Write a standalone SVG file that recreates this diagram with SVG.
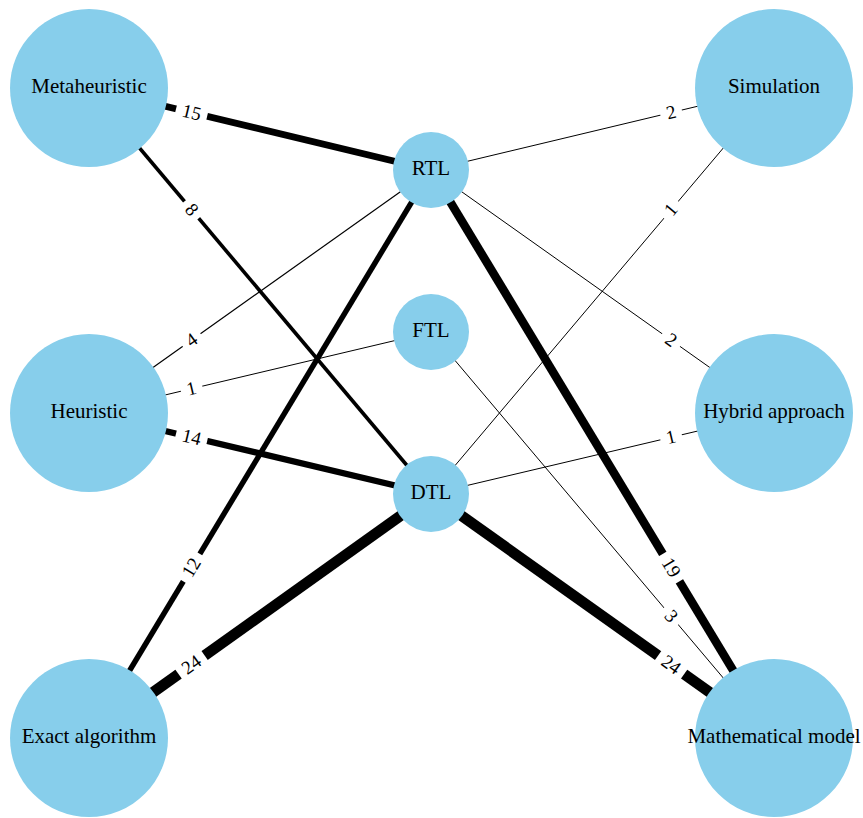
<svg xmlns="http://www.w3.org/2000/svg" width="863" height="818" viewBox="0 0 863 818">
<style>
.node{fill:#87CEEB}
.nl{font-size:21px;fill:#000;text-anchor:middle}
.e{stroke:#000;stroke-linecap:butt;fill:none}
.el{font-size:19px;fill:#000;text-anchor:middle}
.bg{fill:#fff}
</style>
<rect width="863" height="818" fill="#fff"/>
<g id="connectors" font-family="'Liberation Serif', 'Times New Roman', Times, serif">
<line class="e" x1="89" y1="88" x2="431" y2="170" stroke-width="6.8"/>
<line class="e" x1="89" y1="88" x2="431" y2="494" stroke-width="3.6"/>
<line class="e" x1="89" y1="413" x2="431" y2="170" stroke-width="1.2"/>
<line class="e" x1="89" y1="413" x2="431" y2="332" stroke-width="1"/>
<line class="e" x1="89" y1="413" x2="431" y2="494" stroke-width="6.3"/>
<line class="e" x1="89" y1="738" x2="431" y2="170" stroke-width="5.4"/>
<line class="e" x1="89" y1="738" x2="431" y2="494" stroke-width="10.8"/>
<line class="e" x1="774" y1="88" x2="431" y2="170" stroke-width="1"/>
<line class="e" x1="774" y1="88" x2="431" y2="494" stroke-width="1"/>
<line class="e" x1="774" y1="413" x2="431" y2="170" stroke-width="1"/>
<line class="e" x1="774" y1="413" x2="431" y2="494" stroke-width="1"/>
<line class="e" x1="774" y1="738" x2="431" y2="170" stroke-width="8.5"/>
<line class="e" x1="774" y1="738" x2="431" y2="332" stroke-width="1"/>
<line class="e" x1="774" y1="738" x2="431" y2="494" stroke-width="10.8"/>
<g transform="translate(191.6,112.6) rotate(13.48)"><rect class="bg" x="-16" y="-10" width="32" height="20"/><text class="el" y="6">15</text></g>
<g transform="translate(191.6,209.8) rotate(49.89)"><rect class="bg" x="-11" y="-10" width="22" height="20"/><text class="el" y="6">8</text></g>
<g transform="translate(191.6,340.1) rotate(-35.39)"><rect class="bg" x="-11" y="-10" width="22" height="20"/><text class="el" y="6">4</text></g>
<g transform="translate(191.6,388.7) rotate(-13.32)"><rect class="bg" x="-11" y="-10" width="22" height="20"/><text class="el" y="6">1</text></g>
<g transform="translate(191.6,437.3) rotate(13.32)"><rect class="bg" x="-16" y="-10" width="32" height="20"/><text class="el" y="6">14</text></g>
<g transform="translate(191.6,567.6) rotate(-58.95)"><rect class="bg" x="-16" y="-10" width="32" height="20"/><text class="el" y="6">12</text></g>
<g transform="translate(191.6,664.8) rotate(-35.5)"><rect class="bg" x="-16" y="-10" width="32" height="20"/><text class="el" y="6">24</text></g>
<g transform="translate(671.1,112.6) rotate(-13.45)"><rect class="bg" x="-11" y="-10" width="22" height="20"/><text class="el" y="6">2</text></g>
<g transform="translate(671.1,209.8) rotate(-49.8)"><rect class="bg" x="-11" y="-10" width="22" height="20"/><text class="el" y="6">1</text></g>
<g transform="translate(671.1,340.1) rotate(35.31)"><rect class="bg" x="-11" y="-10" width="22" height="20"/><text class="el" y="6">2</text></g>
<g transform="translate(671.1,437.3) rotate(-13.29)"><rect class="bg" x="-11" y="-10" width="22" height="20"/><text class="el" y="6">1</text></g>
<g transform="translate(671.1,567.6) rotate(58.87)"><rect class="bg" x="-16" y="-10" width="32" height="20"/><text class="el" y="6">19</text></g>
<g transform="translate(671.1,616.2) rotate(49.8)"><rect class="bg" x="-11" y="-10" width="22" height="20"/><text class="el" y="6">3</text></g>
<g transform="translate(671.1,664.8) rotate(35.42)"><rect class="bg" x="-16" y="-10" width="32" height="20"/><text class="el" y="6">24</text></g>
</g>
<g id="nodes" font-family="'Liberation Serif', 'Times New Roman', Times, serif">
<g id="n-metaheuristic"><circle class="node" cx="89" cy="88" r="79"/><text class="nl" x="89" y="93">Metaheuristic</text></g>
<g id="n-heuristic"><circle class="node" cx="89" cy="413" r="79"/><text class="nl" x="89" y="418">Heuristic</text></g>
<g id="n-exact"><circle class="node" cx="89" cy="738" r="79"/><text class="nl" x="89" y="743">Exact algorithm</text></g>
<g id="n-simulation"><circle class="node" cx="774" cy="88" r="79"/><text class="nl" x="774" y="93">Simulation</text></g>
<g id="n-hybrid"><circle class="node" cx="774" cy="413" r="79"/><text class="nl" x="774" y="418">Hybrid approach</text></g>
<g id="n-math"><circle class="node" cx="774" cy="738" r="79"/><text class="nl" x="774" y="743">Mathematical model</text></g>
<g id="n-rtl"><circle class="node" cx="431" cy="170" r="38"/><text class="nl" x="431" y="175">RTL</text></g>
<g id="n-ftl"><circle class="node" cx="431" cy="332" r="38"/><text class="nl" x="431" y="337">FTL</text></g>
<g id="n-dtl"><circle class="node" cx="431" cy="494" r="38"/><text class="nl" x="431" y="499">DTL</text></g>
</g>
</svg>
